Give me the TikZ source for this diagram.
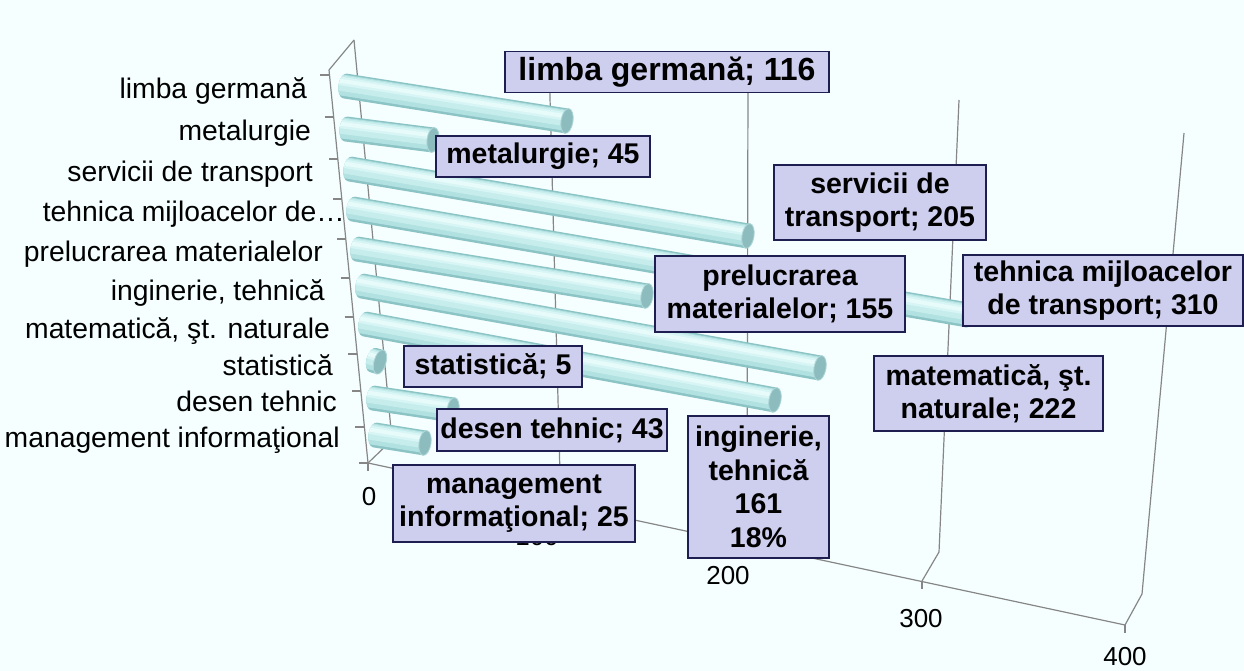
\documentclass[tikz,border=0pt]{standalone}
\usepackage{fontspec}
\setmainfont{Liberation Sans}
\definecolor{bg}{RGB}{246,255,255}
\definecolor{gridc}{RGB}{134,134,134}
\definecolor{boxfill}{RGB}{206,206,238}
\definecolor{boxdraw}{RGB}{30,30,80}
\definecolor{cylA}{RGB}{140,196,198}
\definecolor{cylB}{RGB}{178,225,225}
\definecolor{cylC}{RGB}{198,236,236}
\definecolor{cylD}{RGB}{216,245,245}
\definecolor{cylE}{RGB}{232,251,251}
\definecolor{capfill}{RGB}{140,188,190}
\definecolor{capdraw}{RGB}{175,215,216}
\newcommand\cylbar[4]{%
 \pgfmathsetmacro\cdx{(#3)-(#1)}%
 \pgfmathsetmacro\cdy{(#4)-(#2)}%
 \pgfmathsetmacro\cang{atan2(-\cdy,\cdx)}%
 \pgfmathsetmacro\clen{veclen(\cdx,\cdy)}%
 \begin{scope}[shift={(#1,#2)},rotate=\cang]
  \begin{scope}
   \clip (0,-12.5) -- (\clen,-12.5) -- (\clen,12.5) -- (0,12.5)
     arc[start angle=90,end angle=270,x radius=6.5,y radius=12.5] -- cycle;
   \fill[cylA] (-8,-13) rectangle (\clen+1,13);
   \fill[cylB] (-8,-11) rectangle (\clen+1,10);
   \fill[cylC] (-8,-10) rectangle (\clen+1,5.5);
   \fill[cylD] (-8,-8.5) rectangle (\clen+1,0);
   \fill[cylE] (-8,-6.5) rectangle (\clen+1,-2.5);
  \end{scope}
  \filldraw[capfill,draw=capdraw,line width=0.8pt] (\clen,0) ellipse [x radius=6,y radius=12.5];
 \end{scope}
}
\tikzset{
 gridln/.style={draw=gridc,line width=1.2pt},
 catlbl/.style={font=\fontsize{28.3}{33}\selectfont,inner sep=0pt,anchor=mid east},
 vallbl/.style={font=\fontsize{26}{31}\selectfont,inner sep=0pt},
 dlbl/.style={draw=boxdraw,fill=boxfill,line width=1.6pt,font=\bfseries\fontsize{28.5}{33.5}\selectfont,align=center,inner sep=0pt},
}
\begin{document}
\begin{tikzpicture}[x=1pt,y=-1pt]
\fill[bg] (0,0) rectangle (1244,671);
\useasboundingbox (0,0) rectangle (1244,671);
% axis geometry
\coordinate (F0) at (368,463); \coordinate (B0) at (392,440); \coordinate (T0) at (354,40);
\coordinate (F1) at (540,500); \coordinate (B1) at (560,475); \coordinate (T1) at (549,60);
\coordinate (F2) at (728,540); \coordinate (B2) at (747,513); \coordinate (T2) at (748,80);
\coordinate (F3) at (922,581); \coordinate (B3) at (939,552); \coordinate (T3) at (959,100);
\coordinate (F4) at (1125,625); \coordinate (B4) at (1142,594); \coordinate (T4) at (1184,133);
\coordinate (Atop) at (329,70);
% gridlines
\foreach \i in {0,...,4}{
  \draw[gridln] (F\i) -- (B\i) -- (T\i);
  \draw[gridln] (F\i) -- ++(0,8);
}
\draw[gridln] (Atop) -- (T0);
\draw[gridln] (Atop) -- (F0);
\draw[gridln] (F0) -- (F4);
\foreach \ty in {75,117,159,199,239,278,317,354,391,427,463}{
  \pgfmathsetmacro\tx{368-(463-\ty)*0.0993}
  \draw[gridln] (\tx-9,\ty) -- (\tx,\ty);
}
% bars
\cylbar{345}{86}{567}{121}
\cylbar{346}{129}{433}{140}
\cylbar{350}{169}{748}{236}
\cylbar{353}{209}{968}{315}
\cylbar{357}{249}{647}{296}
\cylbar{362}{286}{820}{368}
\cylbar{365}{324}{775}{400}
\cylbar{373}{360}{380}{362}
\cylbar{373}{398}{453}{410}
\cylbar{375}{435}{425}{443}
% category labels
\node[catlbl] (c1) at (307,96) {limba germană};
\node[catlbl] (c2) at (311,138) {metalurgie};
\node[catlbl] (c3) at (313,179) {servicii de transport};
\node[catlbl] (c4) at (345,219) {tehnica mijloacelor de…};
\node[catlbl] (c5) at (323,258.5) {prelucrarea materialelor};
\node[catlbl] (c6) at (325,297.5) {inginerie, tehnică};
\node[catlbl] (c7) at (330,335.5) {matematică, şt. naturale};
\node[catlbl] (c8) at (333,372.5) {statistică};
\node[catlbl] (c9) at (337,409) {desen tehnic};
\node[catlbl] (c10) at (340,444.5) {management informaţional};
% value labels
\node[vallbl] (v0) at (369,497) {0};
\node[vallbl] (v1) at (537,537) {100};
\node[vallbl] (v2) at (728,576) {200};
\node[vallbl] (v3) at (921,619) {300};
\node[vallbl] (v4) at (1125,657) {400};
% data labels
\node[dlbl,font=\bfseries\fontsize{32}{36}\selectfont,minimum width=324pt,minimum height=41pt] (d1) at (667,72) {limba germană; 116};
\node[dlbl,minimum width=214pt,minimum height=41pt] (d2) at (543,156.5) {metalurgie; 45};
\node[dlbl,minimum width=212pt,minimum height=75pt] (d3) at (880,202.5) {servicii de\\transport; 205};
\node[dlbl,minimum width=280pt,minimum height=71pt] (d4) at (1103,290.5) {tehnica mijloacelor\\de transport; 310};
\node[dlbl,minimum width=250pt,minimum height=76pt] (d5) at (780,294) {prelucrarea\\materialelor; 155};
\node[dlbl,minimum width=229pt,minimum height=75pt] (d6) at (988.5,393.5) {matematică, şt.\\naturale; 222};
\node[dlbl,minimum width=178pt,minimum height=41pt] (d7) at (493,366.5) {statistică; 5};
\node[dlbl,minimum width=230pt,minimum height=42pt] (d8) at (552,430) {desen tehnic; 43};
\node[dlbl,minimum width=242pt,minimum height=77pt] (d9) at (514,503.5) {management\\informaţional; 25};
\node[dlbl,minimum width=141pt,minimum height=142pt] (d10) at (758.5,487) {inginerie,\\tehnică\\161\\18\%};
\end{tikzpicture}
\end{document}
